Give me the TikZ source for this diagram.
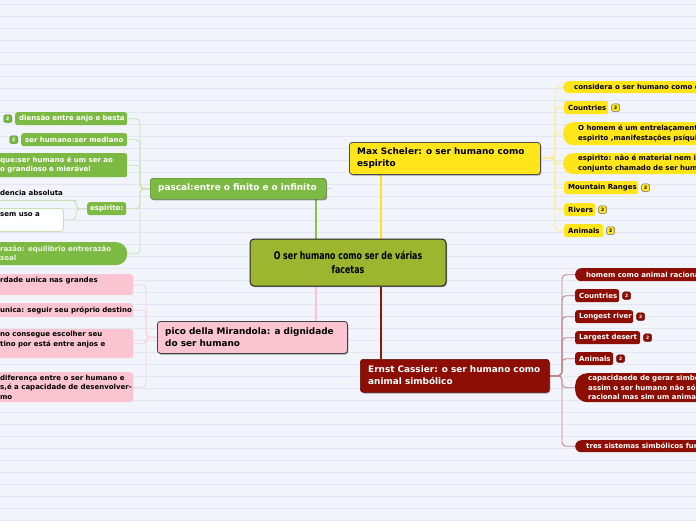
\documentclass[tikz,border=0pt]{standalone}
\usepackage{fontspec}
\setmainfont{DejaVu Sans}
\newfontfamily\condfont{DejaVu Sans}[FakeStretch=0.75]
\usetikzlibrary{shadows,positioning}
\definecolor{bg}{HTML}{F2F4FB}
\definecolor{bgline}{HTML}{E3E7F3}
\definecolor{gfill}{HTML}{7DBA43}
\definecolor{gline}{HTML}{8BC34A}
\definecolor{glight}{HTML}{C9E1B2}
\definecolor{yfill}{HTML}{FFE51A}
\definecolor{yline}{HTML}{FFE21A}
\definecolor{ylight}{HTML}{FFEC85}
\definecolor{rfill}{HTML}{8C0E04}
\definecolor{rline}{HTML}{8C1A0C}
\definecolor{rlight}{HTML}{C48484}
\definecolor{pfill}{HTML}{FAC4D0}
\definecolor{pline}{HTML}{F8C4D2}
\definecolor{plight}{HTML}{F8D2DC}
\definecolor{cfill}{HTML}{9DB52F}
\newcommand\mainf{\fontsize{8.9}{12}\selectfont\bfseries}
\newcommand\chf{\fontsize{7}{9.5}\selectfont\bfseries}
\pgfdeclarelayer{bgl}
\pgfsetlayers{bgl,main}
\tikzset{
  shad/.style={drop shadow={shadow xshift=1pt,shadow yshift=-1.2pt,opacity=0.35,fill=black}},
  gmain/.style={fill=gfill,draw=gfill!60!black,line width=0.4pt,rounded corners=3pt,shad},
  gmaintxt/.style={text=white,font=\mainf},
  gbox/.style={fill=gfill,rounded corners=2.5pt},
  gpill/.style={fill=gfill,rounded corners=11pt},
  gtxt/.style={text=white,font=\chf},
  gltxt/.style={text=white!85!gfill,font=\chf},
  nobox/.style={},
  wbox/.style={fill=white,draw=glight,line width=0.9pt,rounded corners=3pt},
  ktxt/.style={text=black,font=\chf},
  ymain/.style={fill=yfill,draw=black!70,line width=0.8pt,rounded corners=3pt,shad},
  ymaintxt/.style={text=black,font=\mainf},
  ybox/.style={fill=yfill,rounded corners=2.5pt},
  ypill/.style={fill=yfill,rounded corners=#1},
  ytxt/.style={text=black,font=\chf},
  rmain/.style={fill=rfill,draw=rfill!70!black,line width=0.6pt,rounded corners=3pt,shad},
  rmaintxt/.style={text=white,font=\mainf},
  rbox/.style={fill=rfill,rounded corners=2.5pt},
  rpill/.style={fill=rfill,rounded corners=#1},
  rtxt/.style={text=white,font=\chf},
  pmain/.style={fill=pfill,draw=black!75,line width=0.8pt,rounded corners=3pt,shad},
  pmaintxt/.style={text=black,font=\mainf},
  pbox/.style={fill=pfill,rounded corners=3pt},
  ptxt/.style={text=black,font=\chf},
  badge/.style={minimum width=8pt,minimum height=7.5pt,inner sep=0pt,rounded corners=1.5pt,font=\fontsize{4.5}{5}\selectfont\bfseries,line width=0.5pt},
  gbadge/.style={badge,fill=gfill,draw=gfill!70!black,text=white},
  ybadge/.style={badge,fill=yfill,draw=black!60,text=black},
  rbadge/.style={badge,fill=rfill,draw=rfill!70!black,text=white},
  brk/.style={line width=0.9pt,rounded corners=4pt},
  trunk/.style={line width=1.8pt},
  rootbox/.style={fill=cfill,draw=black!85,line width=1pt,rounded corners=4pt,minimum width=196pt,minimum height=47pt,align=center,font=\condfont\fontsize{10.5}{14}\selectfont\bfseries,shad},
}
\newcommand\tb[9]{%
  \node[#2,anchor=north west,inner sep=0pt,minimum width={(#6)-(#4)},minimum height={(#7)-(#5)}] (#1) at (#4,#5) {};
  \node[#3,anchor=west,inner sep=0pt,align=left] (#1t) at (#8,{((#5)+(#7))/2}) {#9};
}
\begin{document}
\begin{tikzpicture}[x=1pt,y=-1pt]
\useasboundingbox (0,0) rectangle (696,520);
\clip (0,0) rectangle (696,520);
\begin{pgfonlayer}{bgl}
\fill[bg] (0,0) rectangle (696,520);
\foreach \yy in {4,16,...,520} \draw[bgline,line width=0.6pt] (0,\yy) -- (696,\yy);
\end{pgfonlayer}

% root
\node[rootbox] (root) at (348,262.5) {O ser humano como ser de várias\\facetas};

% pascal
\tb{pascal}{gmain}{gmaintxt}{150}{178}{326}{199}{158}{pascal:entre o finito e o infinito}
\tb{c1}{gbox}{gtxt}{15}{112}{127}{125}{19}{diensão entre anjo e besta}
\tb{c2}{gbox}{gtxt}{21}{133}{127}{146}{25}{ser humano:ser mediano}
\tb{c3}{gbox}{gtxt}{-10}{153}{127}{177}{0}{que:ser humano é um ser ao\\o grandioso e mierável}
\tb{esp}{gbox}{gtxt}{87}{202}{126}{215}{90}{espirito:}
\tb{e1}{nobox}{ktxt}{-10}{186}{72}{200}{0}{dencia absoluta}
\tb{e2}{wbox}{ktxt}{-10}{208}{63}{231}{0}{sem uso a\\~}
\tb{c5}{gpill}{gltxt}{-10}{242}{127}{265}{0}{razão: equilibrio entrerazão\\soal}
\node[gbadge,left=3pt of c1] (c1b) {2};
\node[gbadge,left=3pt of c2] (c2b) {2};

% max scheler
\tb{max}{ymain}{ymaintxt}{349}{142}{540}{174}{357}{Max Scheler: o ser humano como\\espirito}
\tb{m1}{ypill=6pt}{ytxt}{563}{81}{720}{93}{574}{considera o ser humano como e}
\tb{m2}{ybox}{ytxt}{564}{101}{608}{114}{568}{Countries}
\tb{m3}{ypill=10pt}{ytxt}{563}{122}{720}{145}{578}{O homem é um entrelaçament\\espirito ,manifestações psíqui}
\tb{m4}{ypill=10pt}{ytxt}{563}{153}{720}{174}{578}{espirito: não é material nem i\\conjunto chamado de ser hum}
\tb{m5}{ybox}{ytxt}{564}{181}{638}{194}{568}{Mountain Ranges}
\tb{m6}{ybox}{ytxt}{564}{203}{595}{216}{568}{Rivers}
\tb{m7}{ybox}{ytxt}{564}{224}{603}{237}{568}{Animals}
\node[ybadge,right=3pt of m2] (m2b) {2};
\node[ybadge,right=3pt of m5] (m5b) {2};
\node[ybadge,right=3pt of m6] (m6b) {2};
\node[ybadge,right=3pt of m7] (m7b) {2};

% ernst
\tb{ernst}{rmain}{rmaintxt}{360}{359}{549}{392}{368}{Ernst Cassier: o ser humano como\\animal simbólico}
\tb{r1}{rpill=6pt}{rtxt}{575}{268}{720}{281}{586}{homem como animal raciona}
\tb{r2}{rbox}{rtxt}{575}{289}{619}{302}{579}{Countries}
\tb{r3}{rbox}{rtxt}{575}{310}{633}{323}{579}{Longest river}
\tb{r4}{rbox}{rtxt}{575}{331}{640}{344}{579}{Largest desert}
\tb{r5}{rbox}{rtxt}{575}{352}{613}{365}{579}{Animals}
\tb{r6}{rpill=12pt}{rtxt}{575}{373}{720}{402}{588}{capacidaede de gerar simbo\\assim o ser humano não só\\racional mas sim um anima}
\tb{r7}{rpill=6pt}{rtxt}{575}{440}{720}{452}{586}{tres sistemas simbólicos fun}
\node[rbadge,right=3pt of r2] (r2b) {2};
\node[rbadge,right=3pt of r3] (r3b) {2};
\node[rbadge,right=3pt of r4] (r4b) {2};
\node[rbadge,right=3pt of r5] (r5b) {2};

% pico
\tb{pico}{pmain}{pmaintxt}{157}{321}{347}{353}{165}{pico della Mirandola: a dignidade\\do ser humano}
\tb{p1}{pbox}{ptxt}{-10}{274}{133}{295}{0}{rdade unica nas grandes\\~}
\tb{p2}{pbox}{ptxt}{-10}{303}{133}{317}{0}{unica: seguir seu próprio destino}
\tb{p3}{pbox}{ptxt}{-10}{329}{133}{358}{0}{no consegue escolher seu\\tino por está entre anjos e\\~}
\tb{p4}{pbox}{ptxt}{-10}{372}{133}{402}{0}{diferença entre o ser humano e\\s,é a capacidade de desenvolver-\\mo}

\begin{pgfonlayer}{bgl}
\draw[gline,trunk] (root.north -| 316,0) -- (pascal.south -| 316,0);
\draw[yline,trunk] (root.north -| 381,0) -- (max.south -| 381,0);
\draw[pline,trunk] (root.south -| 316,0) -- (pico.north -| 316,0);
\draw[rline,trunk] (root.south -| 381,0) -- (ernst.north -| 381,0);
\foreach \n in {c1,c2,c3,esp,c5}
  \draw[glight,brk] (\n.east) -- (\n.east -| 140,0) -- (pascal.west -| 140,0) -- (pascal.west);
\draw[glight,line width=0.9pt] (pascal.east) -- ++(6,0);
\draw[glight,brk] (e1.south west) -- (e1.south east) -- (e1.south east -| 76,0) -- (esp.west -| 76,0) -- (esp.west);
\draw[glight,brk] (e2.east) -- (e2.east -| 76,0) -- (esp.west -| 76,0) -- (esp.west);
\foreach \n in {p1,p2,p3,p4}
  \draw[plight,brk] (\n.east) -- (\n.east -| 146,0) -- (pico.west -| 146,0) -- (pico.west);
\foreach \n in {m1,m2,m3,m4,m5,m6,m7}
  \draw[ylight,brk] (max.east) -- (max.east -| 555,0) -- (\n.west -| 555,0) -- (\n.west);
\foreach \n in {r1,r2,r3,r4,r5,r6,r7}
  \draw[rlight,brk] (ernst.east) -- (ernst.east -| 562,0) -- (\n.west -| 562,0) -- (\n.west);
\end{pgfonlayer}
\end{tikzpicture}
\end{document}
